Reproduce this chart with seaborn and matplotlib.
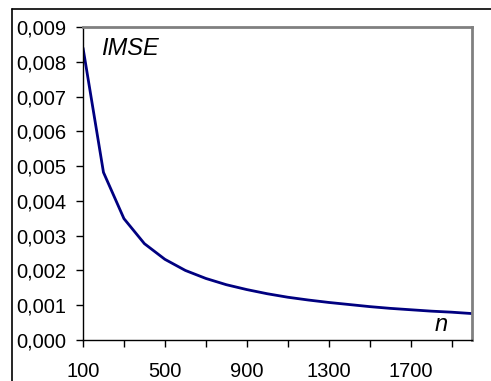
import matplotlib
matplotlib.use("Agg")
import matplotlib.pyplot as plt
from matplotlib.lines import Line2D
from matplotlib.ticker import FuncFormatter
import seaborn as sns

# n (sample size) and IMSE
n = [100, 200, 300, 400, 500, 600, 700, 800, 900, 1000,
     1100, 1200, 1300, 1400, 1500, 1600, 1700, 1800, 1900, 2000]
imse = [0.00840, 0.00482, 0.00349, 0.00277, 0.00232, 0.00200, 0.00177, 0.00159, 0.00145, 0.00133,
        0.00123, 0.00115, 0.00108, 0.00102, 0.00096, 0.00091, 0.00087, 0.00083, 0.00080, 0.00076]
xticks = [100, 300, 500, 700, 900, 1100, 1300, 1500, 1700, 1900]
xlabels = ["100", "", "500", "", "900", "", "1300", "", "1700", ""]
yticks = [0.000, 0.001, 0.002, 0.003, 0.004, 0.005, 0.006, 0.007, 0.008, 0.009]

sns.set_style("ticks")
plt.rcParams['font.family'] = ['Liberation Sans', 'DejaVu Sans']
plt.rcParams['text.color'] = 'black'

W, H = 491, 381
fig = plt.figure(figsize=(W / 100, H / 100), dpi=100)
ax = fig.add_axes([83 / W, 1 - 340 / H, (472 - 83) / W, (340 - 27) / H])

sns.lineplot(x=n, y=imse, ax=ax, color="#000080", linewidth=2)

ax.set_xlim(100, 2000)
ax.set_ylim(0, 0.009)
ax.set_xticks(xticks)
ax.set_xticklabels(xlabels)
ax.set_yticks(yticks)
ax.yaxis.set_major_formatter(FuncFormatter(lambda v, p: ("%.3f" % v).replace(".", ",")))

ax.tick_params(axis="x", direction="out", length=5, width=1, colors="black", labelsize=14.5, pad=11)
ax.tick_params(axis="y", direction="out", length=5, width=1, colors="black", labelsize=14.5, pad=7)

for s in ["left", "bottom"]:
    ax.spines[s].set_color("black")
    ax.spines[s].set_linewidth(1)
for s in ["top", "right"]:
    ax.spines[s].set_color("#808080")
    ax.spines[s].set_linewidth(2)
ax.set_xlabel("")
ax.set_ylabel("")

ax.text(101.5 / W, 1 - 55 / H, "IMSE", transform=fig.transFigure, fontsize=17, style="italic",
        va="baseline", color="black")
ax.text(435 / W, 1 - 331 / H, "n", transform=fig.transFigure, fontsize=17, style="italic",
        va="baseline", color="black")

# outer chart border (clipped at right and bottom)
fig.add_artist(Line2D([12 / W, 12 / W], [0, 1 - 8.5 / H], color="black", linewidth=1.2, transform=fig.transFigure))
fig.add_artist(Line2D([12 / W, 1], [1 - 8.5 / H, 1 - 8.5 / H], color="black", linewidth=1.2, transform=fig.transFigure))

fig.savefig("out.png", dpi=100)
